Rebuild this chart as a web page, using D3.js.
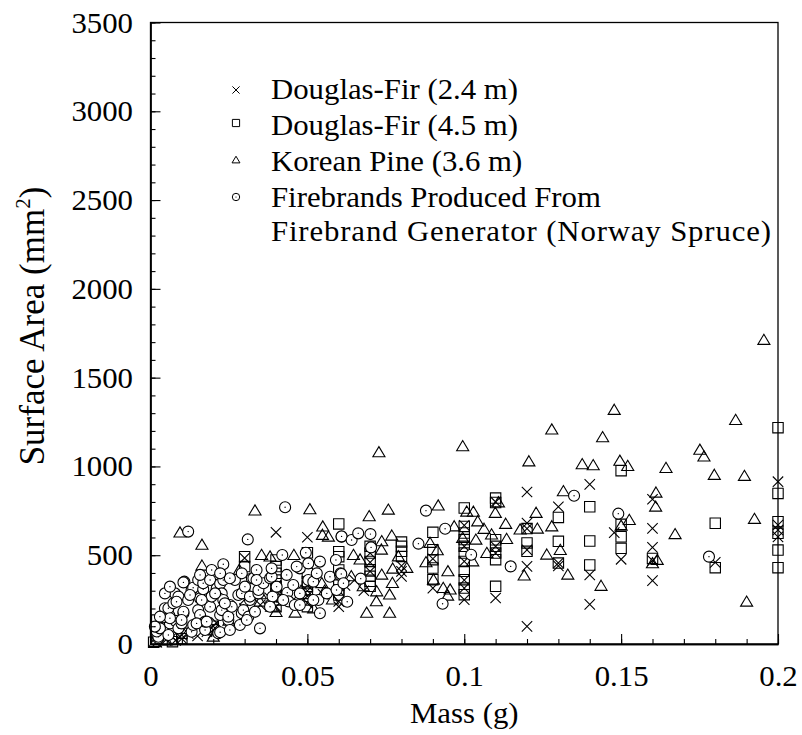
<!DOCTYPE html>
<html>
<head>
<meta charset="utf-8">
<script src="https://cdn.jsdelivr.net/npm/d3@7"></script>
<style>
  body { margin: 0; background: #fff; }
  svg { display: block; }
</style>
</head>
<body>
<div id="chart"></div>
<script>
// tick values
const xMajor = [0, 0.05, 0.1, 0.15, 0.2];
const xMinor = d3.range(0, 0.2001, 0.01);
const yMajor = [0, 500, 1000, 1500, 2000, 2500, 3000, 3500];
const yMinor = d3.range(0, 3501, 100);

// Douglas-Fir (2.4 m) [mass g, area mm2]
const fir24 = [
  [0.002, 10], [0.005, 25], [0.007, 40], [0.008, 20], [0.01, 50], [0.01, 30], [0.012, 60],
  [0.015, 45], [0.018, 70], [0.02, 100], [0.02, 80], [0.02, 60], [0.021, 120], [0.025, 140],
  [0.03, 484], [0.03, 250], [0.03, 200], [0.032, 180], [0.035, 220], [0.038, 260],
  [0.04, 629], [0.04, 330], [0.04, 300], [0.04, 250], [0.04, 210], [0.042, 280], [0.045, 240],
  [0.05, 601], [0.05, 330], [0.05, 300], [0.05, 270], [0.05, 230], [0.052, 250], [0.055, 280],
  [0.06, 240], [0.06, 210], [0.06, 300], [0.062, 330], [0.065, 360],
  [0.07, 512], [0.07, 409], [0.07, 460], [0.068, 300],
  [0.08, 409], [0.08, 381], [0.08, 440], [0.09, 315], [0.09, 480],
  [0.1, 668], [0.1, 550], [0.1, 465], [0.1, 360], [0.1, 315], [0.1, 250],
  [0.11, 800], [0.11, 550], [0.11, 512], [0.11, 259],
  [0.12, 856], [0.12, 681], [0.12, 650], [0.12, 530], [0.12, 437], [0.12, 99],
  [0.13, 773], [0.13, 456], [0.13, 440], [0.14, 899], [0.14, 389], [0.14, 223],
  [0.1478, 627], [0.15, 477], [0.16, 815], [0.16, 651], [0.16, 544], [0.16, 470], [0.16, 357],
  [0.18, 460], [0.2, 914], [0.2, 670], [0.2, 642], [0.2, 603]
];

// Douglas-Fir (4.5 m)
const fir45 = [
  [0.001, 10], [0.002, 135], [0.007, 13], [0.01, 30], [0.01, 60], [0.02, 100], [0.02, 80],
  [0.03, 492], [0.03, 436], [0.03, 300],
  [0.04, 473], [0.04, 436], [0.04, 398], [0.04, 360], [0.04, 323], [0.04, 285], [0.04, 248], [0.04, 210],
  [0.05, 514], [0.05, 398], [0.05, 351], [0.05, 325], [0.05, 285], [0.05, 248], [0.05, 210],
  [0.06, 676], [0.06, 520], [0.06, 492], [0.06, 417], [0.06, 360], [0.06, 332], [0.06, 304], [0.06, 276],
  [0.07, 550], [0.07, 512], [0.07, 465], [0.07, 418], [0.07, 381], [0.07, 353], [0.07, 325],
  [0.08, 574], [0.08, 550], [0.08, 522], [0.08, 493],
  [0.09, 629], [0.09, 531], [0.09, 475], [0.09, 428], [0.09, 362],
  [0.1, 766], [0.1, 662], [0.1, 625], [0.1, 588], [0.1, 550], [0.1, 512], [0.1, 465], [0.1, 409],
  [0.1, 362], [0.1, 315], [0.1, 278],
  [0.11, 822], [0.11, 797], [0.11, 587], [0.11, 550], [0.11, 512], [0.11, 475], [0.11, 325],
  [0.12, 650], [0.12, 569], [0.12, 522], [0.13, 713], [0.13, 578], [0.13, 456],
  [0.14, 773], [0.14, 580], [0.14, 445], [0.15, 976], [0.15, 674], [0.15, 604], [0.15, 539],
  [0.16, 482], [0.18, 680], [0.18, 430],
  [0.2, 1218], [0.2, 848], [0.2, 689], [0.2, 623], [0.2, 529], [0.2, 430]
];

// Korean Pine (3.6 m)
const pine = [
  [0.0015, 10], [0.005, 20], [0.0094, 627], [0.0164, 558], [0.0164, 441], [0.02, 41],
  [0.025, 130], [0.0283, 417], [0.03, 150], [0.0333, 751], [0.0349, 238], [0.035, 280],
  [0.0354, 501], [0.0381, 492], [0.0386, 210], [0.04, 180], [0.042, 260], [0.0457, 501],
  [0.0461, 176], [0.048, 300], [0.0508, 758], [0.052, 200], [0.0546, 342], [0.0549, 661],
  [0.0548, 614], [0.0555, 300], [0.0567, 604], [0.058, 250], [0.064, 381], [0.0647, 501],
  [0.0668, 475], [0.0678, 325], [0.0689, 175], [0.0697, 719], [0.072, 240], [0.0721, 296],
  [0.0728, 1079], [0.0736, 531], [0.0737, 578], [0.0737, 390], [0.0758, 756], [0.0762, 278],
  [0.0762, 175], [0.0769, 610], [0.0771, 343], [0.0772, 424], [0.079, 493], [0.0817, 428],
  [0.0878, 460], [0.0891, 569], [0.0902, 362], [0.0914, 527], [0.0917, 779], [0.0933, 315],
  [0.0947, 272], [0.0948, 409], [0.0955, 306], [0.0968, 662], [0.0995, 1113], [0.0995, 597],
  [0.1008, 745], [0.1027, 465], [0.1029, 744], [0.1037, 587], [0.1043, 690], [0.1063, 648],
  [0.1072, 512], [0.1087, 616], [0.1099, 738], [0.1109, 797], [0.1132, 676], [0.1135, 591],
  [0.1178, 644], [0.1191, 385], [0.1206, 1028], [0.1229, 738], [0.1233, 649], [0.1263, 503],
  [0.1279, 1207], [0.1279, 662], [0.1306, 529], [0.1316, 860], [0.133, 390], [0.1376, 1012],
  [0.1411, 1006], [0.1436, 327], [0.1441, 1164], [0.1478, 1318], [0.1496, 1031], [0.15, 665],
  [0.1521, 1002], [0.1526, 698], [0.16, 454], [0.161, 773], [0.1611, 852], [0.1615, 473],
  [0.1643, 991], [0.1672, 618], [0.1751, 1093], [0.1764, 1055], [0.1797, 952], [0.1865, 1261],
  [0.1893, 946], [0.19, 238], [0.1925, 704], [0.1955, 1712]
];

// Firebrand generator (Norway Spruce)
const gen = [
  [0.0025, 32], [0.0025, 41], [0.002, 70], [0.003, 88], [0.0057, 51], [0.0062, 116], [0.004, 150],
  [0.006, 160], [0.008, 130], [0.0046, 201], [0.0057, 201], [0.0073, 229], [0.0078, 285],
  [0.0089, 88], [0.0089, 267], [0.0099, 116], [0.0105, 173], [0.0105, 182], [0.0108, 351],
  [0.0105, 347], [0.012, 248], [0.012, 633], [0.0131, 69], [0.0131, 304], [0.0136, 107],
  [0.0136, 317], [0.0152, 191], [0.0152, 360], [0.0158, 163], [0.0158, 257], [0.0168, 308],
  [0.0168, 342], [0.0174, 79], [0.0174, 126], [0.019, 210], [0.019, 360], [0.0195, 267],
  [0.0195, 417], [0.0211, 313], [0.0216, 60], [0.0222, 66], [0.0222, 163], [0.0222, 340],
  [0.0227, 191], [0.0227, 285], [0.0232, 248], [0.0232, 360], [0.0232, 449], [0.0248, 135],
  [0.0248, 154], [0.0253, 220], [0.0259, 210], [0.0269, 360], [0.028, 276], [0.0285, 107],
  [0.0291, 173], [0.0291, 285], [0.0291, 398], [0.0296, 191], [0.0301, 323], [0.031, 589],
  [0.0312, 154], [0.0317, 248], [0.0317, 267], [0.0323, 370], [0.0328, 370], [0.0344, 285],
  [0.0344, 304], [0.0349, 88], [0.036, 342], [0.0381, 370], [0.0389, 267], [0.0386, 379],
  [0.0402, 323], [0.042, 501], [0.0429, 770], [0.0434, 389], [0.0436, 289], [0.044, 240],
  [0.0455, 332], [0.046, 220], [0.0476, 285], [0.0476, 426], [0.0495, 514], [0.0503, 360],
  [0.0503, 454], [0.0519, 351], [0.053, 398], [0.0535, 248], [0.054, 173], [0.054, 464],
  [0.0562, 285], [0.0572, 379], [0.0591, 473], [0.0604, 389], [0.0606, 398], [0.0608, 394],
  [0.0609, 604], [0.0609, 606], [0.0627, 238], [0.0641, 586], [0.0662, 623], [0.067, 368],
  [0.0701, 619], [0.0703, 544], [0.0854, 565], [0.0878, 751], [0.0931, 227], [0.0939, 649],
  [0.1022, 503], [0.1148, 437], [0.135, 835], [0.1491, 734], [0.178, 492],
  [0.0046, 285], [0.0062, 323], [0.0083, 238], [0.0126, 276], [0.0163, 248], [0.0206, 285],
  [0.0237, 229], [0.0147, 116], [0.0099, 135], [0.0062, 145], [0.003, 154], [0.0014, 98],
  [0.0179, 126], [0.0253, 79], [0.0307, 135], [0.0333, 182], [0.0381, 210], [0.0423, 248],
  [0.0476, 220], [0.0519, 248], [0.0593, 304], [0.0615, 342], [0.0466, 436], [0.0386, 426],
  [0.0338, 417], [0.0338, 360], [0.0253, 370], [0.0222, 398], [0.0158, 389]
];

const legendRows = [
  {label: "Douglas-Fir (2.4 m)", sym: "cross"},
  {label: "Douglas-Fir (4.5 m)", sym: "square"},
  {label: "Korean Pine (3.6 m)", sym: "triangle"},
  {label: "Firebrands Produced From", sym: "circle"},
  {label: "Firebrand Generator (Norway Spruce)", sym: null}
];

const W = 802, H = 735;
const margin = {left: 150.5, right: 778, top: 22.5, bottom: 644};
const font = "'Liberation Serif'";
const fs = 28.5, stretch = 1.08;

const svg = d3.select("#chart").append("svg")
  .attr("width", W).attr("height", H);

const x = d3.scaleLinear().domain([0, 0.2]).range([margin.left, margin.right]);
const y = d3.scaleLinear().domain([0, 3500]).range([margin.bottom, margin.top]);

// marker shapes
function symPath(type, s) {
  if (type === "cross") return `M${-s},${-s}L${s},${s}M${-s},${s}L${s},${-s}`;
  if (type === "square") return `M${-s},${-s}H${s}V${s}H${-s}Z`;
  if (type === "triangle") return `M0,${-s * 1.05}L${s * 1.1},${s * 0.8}L${-s * 1.1},${s * 0.8}Z`;
  return null;
}

// frame
svg.append("rect")
  .attr("x", margin.left).attr("y", margin.top)
  .attr("width", margin.right - margin.left).attr("height", margin.bottom - margin.top)
  .attr("fill", "none").attr("stroke", "#000").attr("stroke-width", 1.3);

// points
const plot = svg.append("g");

function drawPath(data, type, s) {
  plot.append("g").selectAll("path")
    .data(data).enter().append("path")
    .attr("d", symPath(type, s))
    .attr("transform", d => `translate(${x(d[0])},${y(d[1])})`)
    .attr("fill", "none")
    .attr("stroke", "#000")
    .attr("stroke-width", 1.1);
}
drawPath(fir24, "cross", 5.2);
drawPath(fir45, "square", 5.2);
drawPath(pine, "triangle", 5.5);

const circ = plot.append("g").selectAll("g")
  .data(gen).enter().append("g")
  .attr("transform", d => `translate(${x(d[0])},${y(d[1])})`);
circ.append("circle").attr("r", 5.5)
  .attr("fill", "#fff").attr("stroke", "#000").attr("stroke-width", 1.1);
circ.append("circle").attr("r", 0.7).attr("fill", "#000");

// axes
svg.append("g")
  .attr("transform", `translate(0,${margin.bottom})`)
  .call(d3.axisBottom(x).tickValues(xMinor).tickSize(-5).tickSizeOuter(0).tickFormat(""));
const xAxis = svg.append("g")
  .attr("transform", `translate(0,${margin.bottom})`)
  .call(d3.axisBottom(x).tickValues(xMajor).tickSize(-10).tickSizeOuter(0).tickFormat(d3.format("~g")));
svg.append("g")
  .attr("transform", `translate(${margin.left},0)`)
  .call(d3.axisLeft(y).tickValues(yMinor).tickSize(-5).tickSizeOuter(0).tickFormat(""));
const yAxis = svg.append("g")
  .attr("transform", `translate(${margin.left},0)`)
  .call(d3.axisLeft(y).tickValues(yMajor).tickSize(-10).tickSizeOuter(0).tickFormat(d3.format("d")));

svg.selectAll(".domain").attr("stroke", "#000").attr("stroke-width", 1.3);
svg.selectAll(".tick line").attr("stroke", "#000").attr("stroke-width", 1.1);

xAxis.selectAll("text")
  .attr("y", 42).attr("dy", 0)
  .attr("transform", `scale(${stretch},1)`)
  .attr("font-family", font).attr("font-size", fs).attr("fill", "#000");
yAxis.selectAll("text")
  .attr("x", -17.5 / stretch).attr("dy", 0).attr("y", 9.5)
  .attr("transform", `scale(${stretch},1)`)
  .attr("font-family", font).attr("font-size", fs).attr("fill", "#000");

// axis titles
svg.append("text")
  .attr("transform", `translate(${(margin.left + margin.right) / 2},723) scale(${stretch},1)`)
  .attr("text-anchor", "middle")
  .attr("font-family", font).attr("font-size", fs)
  .text("Mass (g)");

const yt = svg.append("text")
  .attr("transform", `translate(44,326) rotate(-90)`)
  .attr("text-anchor", "middle")
  .attr("font-family", font).attr("font-size", 35);
yt.append("tspan").text("Surface Area (mm");
yt.append("tspan").attr("dy", -14).attr("font-size", 21).text("2");
yt.append("tspan").attr("dy", 14).text(")");

// legend
const legY = [99, 135, 171, 207, 241];
const legMark = [90, 123, 160, 197];
const legend = svg.append("g");
legendRows.forEach((r, i) => {
  const t = legend.append("text")
    .attr("transform", `translate(271,${legY[i]}) scale(${stretch},1)`)
    .attr("font-family", font).attr("font-size", fs)
    .text(r.label);
  if (i === 4) t.attr("textLength", 500 / stretch).attr("lengthAdjust", "spacing");
  if (r.sym === "circle") {
    legend.append("circle").attr("cx", 236).attr("cy", legMark[i]).attr("r", 3.7)
      .attr("fill", "#fff").attr("stroke", "#000").attr("stroke-width", 1);
    legend.append("circle").attr("cx", 236).attr("cy", legMark[i]).attr("r", 0.6).attr("fill", "#000");
  } else if (r.sym) {
    legend.append("path")
      .attr("d", symPath(r.sym, 3.6))
      .attr("transform", `translate(236,${legMark[i]})`)
      .attr("fill", "none").attr("stroke", "#000").attr("stroke-width", 1);
  }
});
</script>
</body>
</html>
